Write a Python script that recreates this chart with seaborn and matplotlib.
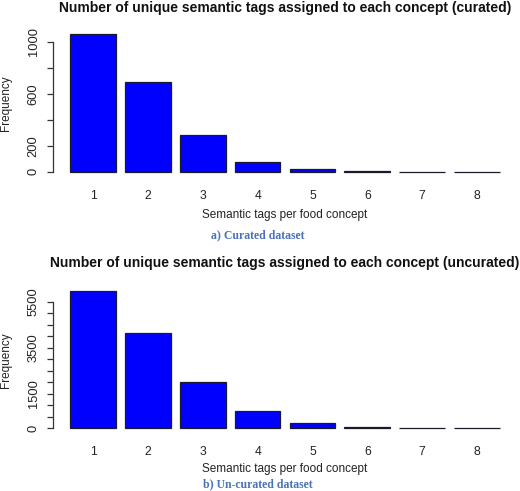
import matplotlib
matplotlib.use("Agg")
import matplotlib.pyplot as plt
import seaborn as sns
import pandas as pd
import numpy as np

tags = ["1", "2", "3", "4", "5", "6", "7", "8"]
curated = [1059, 692, 282, 77, 20, 3, 1, 1]
uncurated = [5975, 4125, 1997, 738, 217, 60, 10, 8]

curated_ticks = [0, 200, 400, 600, 800, 1000]
curated_labels = ["0", "200", "", "600", "", "1000"]
uncurated_ticks = list(range(0, 6000, 500))
uncurated_labels = ["0", "", "", "1500", "", "", "", "3500", "", "", "", "5500"]

title_a = "Number of unique semantic tags assigned to each concept (curated)"
title_b = "Number of unique semantic tags assigned to each concept (uncurated)"
xlab = "Semantic tags per food concept"
ylab = "Frequency"
cap_a = "a) Curated dataset"
cap_b = "b) Un-curated dataset"

sns.set_style("white")
plt.rcParams["font.family"] = ["Liberation Sans", "DejaVu Sans"]

W, H = 520, 491
fig = plt.figure(figsize=(W / 100, H / 100), dpi=100)


def px(x0, y0, x1, y1):
    return [x0 / W, 1 - y1 / H, (x1 - x0) / W, (y1 - y0) / H]


def panel(rect, vals, ticks, labels, title, cap, ytop_px, xlab_y, cap_y, ylab_y):
    ax = fig.add_axes(rect)
    df = pd.DataFrame({"tag": tags, "n": vals})
    sns.barplot(data=df, x="tag", y="n", color="#0000FF", edgecolor="#1a1a2e",
                linewidth=0.9, width=1 / 1.2, saturation=1, ax=ax, errorbar=None)
    vmax = max(vals)
    ax.set_ylim(-0.04 * vmax, 1.04 * vmax)
    ax.set_xlim(-0.73, 7.73)
    for s in ["top", "right", "bottom"]:
        ax.spines[s].set_visible(False)
    ax.spines["left"].set_bounds(ticks[0], ticks[-1])
    ax.spines["left"].set_color("#333333")
    ax.spines["left"].set_linewidth(0.9)
    ax.set_yticks(ticks)
    ax.set_yticklabels(labels, rotation=90, va="center", fontsize=9.3, color="#222222")
    ax.tick_params(axis="y", length=4.5, width=0.9, color="#333333", pad=5, left=True)
    ax.tick_params(axis="x", length=0, pad=9, labelsize=8.7, labelcolor="#222222")
    ax.set_xlabel("")
    ax.set_ylabel("")
    fig.text(285 / W, 1 - ytop_px / H, title, ha="center", va="center",
             fontsize=10.0, fontweight="bold", color="#111111")
    fig.text(285 / W, 1 - xlab_y / H, xlab, ha="center", va="center",
             fontsize=8.5, color="#222222")
    fig.text(6 / W, 1 - ylab_y / H, ylab, ha="center", va="center", rotation=90,
             fontsize=8.5, color="#222222")
    fig.text(258 / W, 1 - cap_y / H, cap, ha="center", va="center",
             fontsize=8.5, fontweight="bold", color="#4a72b8",
             family=["Liberation Serif", "DejaVu Serif"])
    return ax


panel(px(53, 28.6, 517, 177.2), curated, curated_ticks, curated_labels,
      title_a, cap_a, 8, 215, 235, 103)
panel(px(53, 285.2, 517, 433.8), uncurated, uncurated_ticks, uncurated_labels,
      title_b, cap_b, 263, 469, 484, 360)

fig.savefig("out.png", dpi=100, facecolor="white")
